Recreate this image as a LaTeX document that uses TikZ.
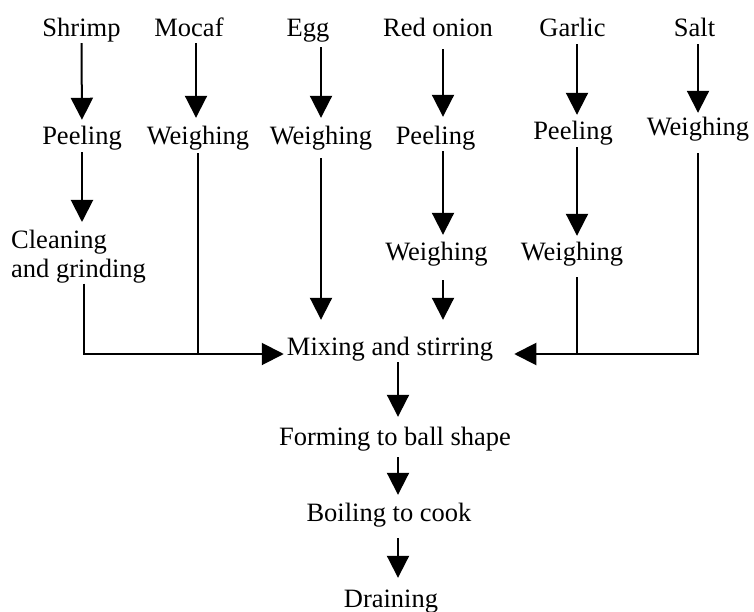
\documentclass[tikz,border=0pt]{standalone}
\usepackage{fontspec}
\setmainfont{Liberation Serif}
\usetikzlibrary{arrows.meta}
\begin{document}
\begin{tikzpicture}[x=1pt,y=-1pt,
  lbl/.style={inner sep=0pt, text height=18pt, text depth=6pt, anchor=base, font=\fontsize{26.5}{29}\selectfont},
  mlbl/.style={inner sep=0pt, align=left, anchor=north west, font=\fontsize{26.5}{29}\selectfont},
  flow/.style={line width=2pt, -{Triangle[length=22pt,width=22pt]}},
  link/.style={line width=2pt}]
\useasboundingbox (0,0) rectangle (754,612);
% top row
\node[lbl] (shrimp) at (81.5,37) {Shrimp};
\node[lbl] (mocaf)  at (189,37)  {Mocaf};
\node[lbl] (egg)    at (308,37)  {Egg};
\node[lbl] (onion)  at (438,37)  {Red onion};
\node[lbl] (garlic) at (572.5,37) {Garlic};
\node[lbl] (salt)   at (694.5,37) {Salt};
% second row
\node[lbl] (p1) at (82,145)  {Peeling};
\node[lbl] (w1) at (198,145) {Weighing};
\node[lbl] (w2) at (321,145) {Weighing};
\node[lbl] (p2) at (435.5,145) {Peeling};
\node[lbl] (p3) at (573,140) {Peeling};
\node[lbl] (w3) at (698,136) {Weighing};
% third row
\node[mlbl] (clean) at (11,230) {Cleaning\\and grinding};
\node[lbl] (w4) at (436.5,260) {Weighing};
\node[lbl] (w5) at (572,260) {Weighing};
% main column
\node[lbl] (mix)   at (390,355) {Mixing and stirring};
\node[lbl] (form)  at (395,445) {Forming to ball shape};
\node[lbl] (boil)  at (389,521) {Boiling to cook};
\node[lbl] (drain) at (391,607) {Draining};
% guide coordinates
\coordinate (co) at (443,0);
\coordinate (cg) at (577,0);
\coordinate (cm) at (196,0);
\coordinate (ca) at (398,0);
\coordinate (jl) at (84,354);
\coordinate (jr) at (698,354);
% shrimp
\draw[flow, shorten >=7pt] (shrimp.south) -- (p1.north);
\draw[flow, shorten <=1pt, shorten >=8pt] (p1.south) -- (p1.south |- clean.north);
\draw[flow, shorten >=3pt] (clean.south -| jl) -- (jl) -- (mix.west |- jl);
% mocaf
\draw[flow, shorten >=9pt] (mocaf.south -| cm) -- (w1.north -| cm);
\draw[link, shorten <=2pt] (w1.south) -- (w1.south |- jl);
% egg
\draw[flow, shorten <=4pt, shorten >=9pt] (egg.south -| w2.north) -- (w2.north);
\draw[flow, shorten <=7pt, shorten >=17pt] (w2.south) -- (w2.south |- mix.north);
% red onion
\draw[flow, shorten <=6pt, shorten >=10pt] (onion.south -| co) -- (p2.north -| co);
\draw[flow, shorten >=7pt] (p2.south -| co) -- (w4.north -| co);
\draw[flow, shorten <=14pt, shorten >=17pt] (w4.south -| co) -- (mix.north -| co);
% garlic
\draw[flow, shorten <=1pt, shorten >=7pt] (garlic.south -| cg) -- (p3.north -| cg);
\draw[flow, shorten <=1pt, shorten >=6pt] (p3.south -| cg) -- (w5.north -| cg);
\draw[link, shorten <=11pt] (w5.south -| cg) -- (cg |- jr);
% salt
\draw[flow, shorten <=1pt, shorten >=5pt] (salt.south -| w3.north) -- (w3.north);
\draw[flow, shorten <=11pt, shorten >=21pt] (w3.south -| jr) -- (jr) -- (mix.east |- jr);
% main chain
\draw[flow, shorten <=1pt, shorten >=10pt] (mix.south -| ca) -- (form.north -| ca);
\draw[flow, shorten <=6pt, shorten >=8pt] (form.south -| ca) -- (boil.north -| ca);
\draw[flow, shorten <=11pt, shorten >=11pt] (boil.south -| ca) -- (drain.north -| ca);
\end{tikzpicture}
\end{document}
